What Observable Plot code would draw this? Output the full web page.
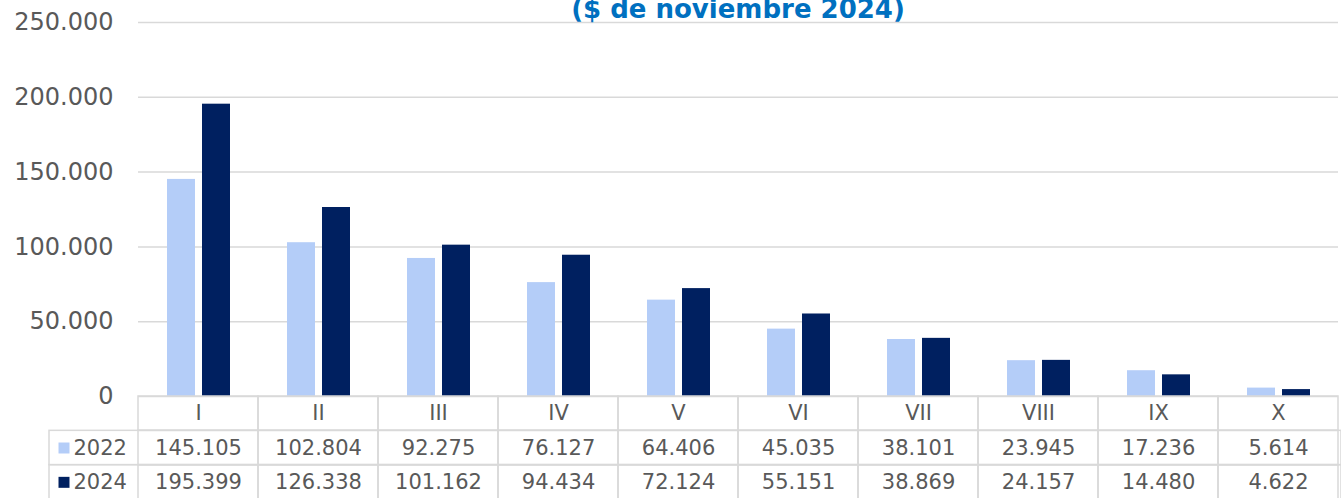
<!DOCTYPE html>
<html>
<head>
<meta charset="utf-8">
<script src="https://cdn.jsdelivr.net/npm/d3@7"></script>
<script src="https://cdn.jsdelivr.net/npm/@observablehq/plot@0.6"></script>
<style>
  html, body { margin: 0; padding: 0; background: #ffffff; overflow: hidden; }
  #wrap { position: relative; width: 1341px; height: 498px; font-family: "DejaVu Sans", Verdana, sans-serif; }
  #title { position: absolute; left: 135px; width: 1206px; top: -4px; text-align: center;
           font: bold 26px/26px "DejaVu Sans", Verdana, sans-serif; color: #0070c0; white-space: nowrap; }
  #chart { position: absolute; left: 0; top: 0; }
  #table { position: absolute; left: 0; top: 395px; }
</style>
</head>
<body>
<div id="wrap">
  <div id="chart"></div>
  <div id="table"></div>
  <div id="title">($ de noviembre 2024)</div>
</div>
<script>
const title = "($ de noviembre 2024)";
const deciles = ["I", "II", "III", "IV", "V", "VI", "VII", "VIII", "IX", "X"];
const series = ["2022", "2024"];
const values2022 = [145105, 102804, 92275, 76127, 64406, 45035, 38101, 23945, 17236, 5614];
const values2024 = [195399, 126338, 101162, 94434, 72124, 55151, 38869, 24157, 14480, 4622];
const yTicks = [0, 50000, 100000, 150000, 200000, 250000];
const colors = ["#b4cdf8", "#002060"];

const loc = d3.formatLocale({decimal: ",", thousands: ".", grouping: [3], currency: ["$", ""]});
const fmt = loc.format(",d");

const seriesValues = [values2022, values2024];
const rows = [];
series.forEach((s, si) => deciles.forEach((d, i) => rows.push({decile: d, series: s, value: seriesValues[si][i]})));

const FONT = '"DejaVu Sans", Verdana, sans-serif';
const GRID = "#d9d9d9";
const TEXT = "#595959";

const chart = Plot.plot({
  width: 1341,
  height: 498,
  marginLeft: 135,
  marginRight: 0,
  marginTop: 22,
  marginBottom: 102,
  style: {fontFamily: FONT, color: TEXT, background: "transparent", overflow: "visible"},
  fx: {domain: deciles, padding: 0, axis: null},
  x: {domain: series, paddingInner: 0.2, paddingOuter: 0.8, axis: null},
  y: {domain: [0, 250000], axis: null},
  color: {domain: series, range: colors},
  marks: [
    Plot.gridY(yTicks, {stroke: GRID, strokeOpacity: 1, strokeWidth: 1.5}),
    Plot.barY(rows, {fx: "decile", x: "series", y: "value", fill: "series"}),
    Plot.axisY(yTicks, {anchor: "left", label: null, tickSize: 0, tickPadding: 25, tickFormat: fmt, fontSize: 24, fill: TEXT})
  ]
});
document.getElementById("chart").appendChild(chart);

// data table under the chart
const cells = [];
[0, 1, 2].forEach(r => deciles.forEach(d => cells.push({decile: d, r})));
const seriesRows = series.map((s, i) => ({series: s, r: i + 1, color: colors[i]}));
const valueRows = rows.map(d => ({...d, r: series.indexOf(d.series) + 1}));

const table = Plot.plot({
  width: 1341,
  height: 103,
  marginLeft: 49,
  marginRight: 0,
  marginTop: 0,
  marginBottom: 0,
  style: {fontFamily: FONT, color: TEXT, background: "transparent", overflow: "visible"},
  x: {domain: deciles, range: [135, 1341], padding: 0, axis: null},
  y: {domain: [0, 3], range: [1, 104], axis: null},
  marks: [
    Plot.rect(seriesRows, {y1: "r", y2: d => d.r + 1, fill: "none", stroke: GRID, strokeWidth: 1.5}),
    Plot.barY(cells, {x: "decile", y1: "r", y2: d => d.r + 1, fill: "none", stroke: GRID, strokeWidth: 1.5}),
    Plot.text(deciles, {x: d => d, y: () => 0.5, text: d => d, fontSize: 21, fill: TEXT}),
    Plot.text(valueRows, {x: "decile", y: d => d.r + 0.5, text: d => fmt(d.value), fontSize: 21, fill: TEXT}),
    Plot.dot(seriesRows, {y: d => d.r + 0.5, frameAnchor: "left", dx: 14.5, symbol: "square", r: 6.2, fill: "color", stroke: "none"}),
    Plot.text(seriesRows, {y: d => d.r + 0.5, frameAnchor: "left", dx: 24, textAnchor: "start", text: "series", fontSize: 21, fill: TEXT})
  ]
});
document.getElementById("table").appendChild(table);
</script>
</body>
</html>
